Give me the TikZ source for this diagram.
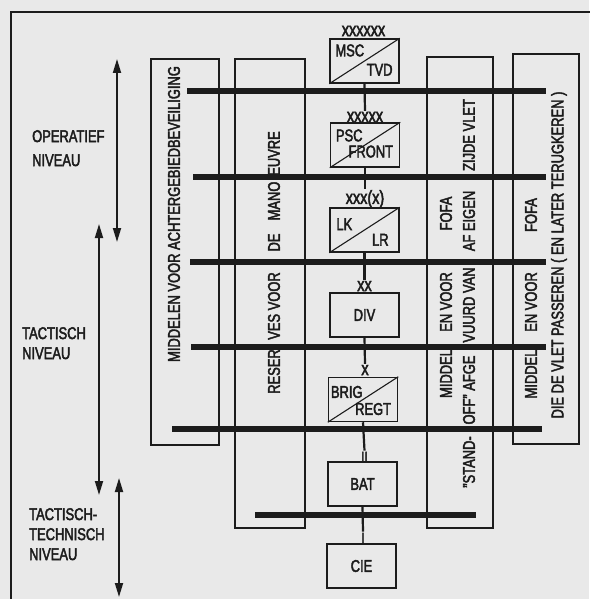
\documentclass[tikz,border=0pt]{standalone}
\usepackage{fontspec}
\setmainfont{Liberation Sans}[FakeStretch=0.76,FakeBold=2.5]
\usetikzlibrary{arrows.meta}
\definecolor{paper}{RGB}{233,233,233}
\definecolor{ink}{RGB}{28,28,28}
\begin{document}
\begin{tikzpicture}[x=1pt,y=-1pt,color=ink,
  font=\fontsize{17}{20}\selectfont,
  unit/.style={draw,line width=1.5pt,minimum width=69pt,minimum height=44pt,inner sep=0pt},
  colbox/.style={draw,line width=1.3pt,inner sep=0pt},
  bar/.style={line width=5.5pt},
  conn/.style={line width=2.2pt},
  lvl/.style={{Triangle[length=14pt,width=8pt]}-{Triangle[length=14pt,width=8pt]},line width=1.8pt},
  ech/.style={inner sep=1pt,font=\fontsize{19}{20}\selectfont},
  vtext/.style={rotate=90,inner sep=0pt},
  lvltext/.style={anchor=north west,inner sep=0pt,align=left},
  diag/.style={line width=1.1pt},
  part/.style={inner sep=0pt}]
% background and frame
\fill[paper] (0,0) rectangle (589,599);
\useasboundingbox (0,0) rectangle (589,599);
\coordinate (fBL) at (11,620);
\coordinate (fTL) at (11,12);
\coordinate (fTR) at (610,12);
\draw[line width=2pt] (fBL) -- (fTL) -- (fTR);

% level labels
\node[lvltext,font=\fontsize{17}{24}\selectfont] (lop) at (32,130) {OPERATIEF\\NIVEAU};
\node[lvltext] (ltac) at (22,327) {TACTISCH\\NIVEAU};
\node[lvltext] (ltt) at (29,508) {TACTISCH-\\TECHNISCH\\NIVEAU};

% level arrows
\coordinate (opT) at (117,59);  \coordinate (opB) at (117,242);
\coordinate (taT) at (99,224);  \coordinate (taB) at (99,495);
\coordinate (ttT) at (119,478); \coordinate (ttB) at (119,597);
\draw[lvl] (opT) -- (opB);
\draw[lvl] (taT) -- (taB);
\draw[lvl] (ttT) -- (ttB);

% column boxes
\node[colbox,minimum width=68pt,minimum height=386pt] (c1) at (185,252) {};
\node[colbox,minimum width=70pt,minimum height=469pt] (c2) at (270,293.5) {};
\node[colbox,minimum width=66pt,minimum height=471pt] (c3) at (460,292.5) {};
\node[colbox,minimum width=66pt,minimum height=390pt] (c4) at (546,249) {};

% column texts
\node[vtext] (t1) at (174,214) {MIDDELEN VOOR ACHTERGEBIEDBEVEILIGING};

\node[vtext] (t2a) at (274,371.5) {RESER};
\node[vtext] (t2b) at (274,306) {VES VOOR};
\node[vtext] (t2c) at (274,242.5) {DE};
\node[vtext] (t2d) at (274,201) {MANO};
\node[vtext] (t2e) at (274,153.5) {EUVRE};

\node[vtext] (t3a) at (446,373.5) {MIDDEL};
\node[vtext] (t3b) at (446,302) {EN VOOR};
\node[vtext] (t3c) at (446,213.5) {FOFA};
\node[vtext] (t3d) at (469,462) {"STAND-};
\node[vtext] (t3e) at (469,390) {OFF" AFGE};
\node[vtext] (t3f) at (469,305) {VUURD VAN};
\node[vtext] (t3g) at (469,221) {AF EIGEN};
\node[vtext] (t3h) at (469,135) {ZIJDE VLET};

\node[vtext] (t4a) at (531,374) {MIDDEL};
\node[vtext] (t4b) at (531,302) {EN VOOR};
\node[vtext] (t4c) at (531,215) {FOFA};
\node[vtext] (t4d) at (559,255) {DIE DE VLET PASSEREN ( EN LATER TERUGKEREN )};

% echelon boxes
\node[unit] (msc) at (364.5,61) {};
\node[unit] (psc) at (365,145) {};
\node[unit] (lk) at (364.5,230) {};
\node[unit] (div) at (364.5,315) {DIV};
\node[unit] (brig) at (363,399.5) {};
\node[unit] (bat) at (362.5,484) {BAT};
\node[unit] (cie) at (361.5,566) {CIE};

\draw[diag] (msc.south west) -- (msc.north east);
\draw[diag] (psc.south west) -- (psc.north east);
\draw[diag] (lk.south west) -- (lk.north east);
\draw[diag] (brig.south west) -- (brig.north east);

\node[part,anchor=north west] (mscA) at ([shift={(6,6)}]msc.north west) {MSC};
\node[part,anchor=south east] (mscB) at ([shift={(-7,-8)}]msc.south east) {TVD};
\node[part,anchor=north west] (pscA) at ([shift={(6,7)}]psc.north west) {PSC};
\node[part,anchor=south east] (pscB) at ([shift={(-7,-10)}]psc.south east) {FRONT};
\node[part,anchor=north west] (lkA) at ([shift={(7,11)}]lk.north west) {LK};
\node[part,anchor=south east] (lkB) at ([shift={(-11,-7)}]lk.south east) {LR};
\node[part,anchor=north west] (brigA) at ([shift={(3,9)}]brig.north west) {BRIG};
\node[part,anchor=south east] (brigB) at ([shift={(-7,-7)}]brig.south east) {REGT};

% echelon marks
\node[ech] (e1) at (363.5,31) {xxxxxx};
\node[ech] (e2) at (365,117) {xxxxx};
\node[ech] (e3) at (365,199) {xxx(x)};
\node[ech] (e4) at (364.5,286) {xx};
\node[ech] (e5) at (365,370) {x};
\node[ech,font=\fontsize{15}{16}\selectfont] (e6) at (364.5,457) {II};
\node[ech,font=\fontsize{15}{16}\selectfont] (e7) at (363,538) {I};

% connectors
\draw[conn] (msc.south) -- (e2.north);
\draw[conn] (psc.south) -- (e3.north);
\draw[conn] (lk.south) -- (e4.north);
\draw[conn] (div.south) -- (e5.north);
\draw[conn] (brig.south) -- (e6.north);
\draw[conn] (bat.south) -- (e7.north);

% bars
\coordinate (b1L) at (187,91);  \coordinate (b1R) at (546,91);
\coordinate (b2L) at (193,177); \coordinate (b2R) at (546,177);
\coordinate (b3L) at (190,262); \coordinate (b3R) at (546,262);
\coordinate (b4L) at (191,347); \coordinate (b4R) at (546,347);
\coordinate (b5L) at (172,429); \coordinate (b5R) at (542,429);
\coordinate (b6L) at (255,515); \coordinate (b6R) at (476,515);
\draw[bar] (b1L) -- (b1R);
\draw[bar] (b2L) -- (b2R);
\draw[bar] (b3L) -- (b3R);
\draw[bar] (b4L) -- (b4R);
\draw[bar] (b5L) -- (b5R);
\draw[bar] (b6L) -- (b6R);
\end{tikzpicture}
\end{document}
